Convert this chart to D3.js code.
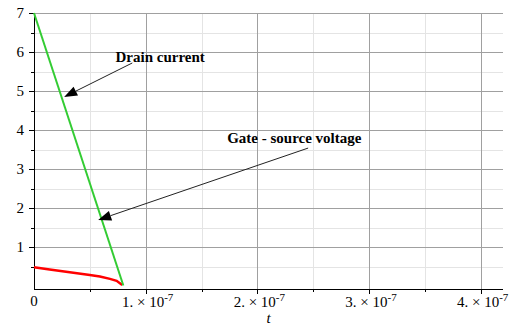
<!DOCTYPE html>
<html lang="en">
<head>
<meta charset="utf-8">
<title>Drain current / gate-source voltage</title>
<script src="https://d3js.org/d3.v7.min.js"></script>
<style type="text/css">
  body { margin: 0; background: #fff; }
</style>
</head>
<body>
<div id="chart"></div>
<script>

/* Data (t in seconds) */
/* =================== */

var greenT = [0, 0.80e-7];
var greenV = [7, 0.02];

var redT = [0, 0.14e-7, 0.32e-7, 0.50e-7, 0.59e-7, 0.68e-7, 0.74e-7, 0.79e-7];
var redV = [0.49, 0.43, 0.36, 0.29, 0.25, 0.19, 0.14, 0.03];

var xMajor = [1e-7, 2e-7, 3e-7, 4e-7];
var xMinor = [0.5e-7, 1.5e-7, 2.5e-7, 3.5e-7];
var xLabels = ['1.', '2.', '3.', '4.'];
var yMajor = [1, 2, 3, 4, 5, 6, 7];
var yMinor = [0.5, 1.5, 2.5, 3.5, 4.5, 5.5, 6.5];

// annotations: text position, arrow tail, arrow tip (data coords)
var noteText = ['Drain current', 'Gate - source voltage'];
var noteTextPos = [[0.73e-7, 5.75], [1.73e-7, 3.67]];
var noteTail = [[0.88e-7, 5.72], [2.455e-7, 3.54]];
var noteTip = [[0.27e-7, 4.85], [0.575e-7, 1.70]];


/* Setup */
/* ===== */

var width = 511, height = 331;
var serif = '"Liberation Serif"';

var x = d3.scaleLinear().domain([0, 4.2e-7]).range([34, 503]);
var y = d3.scaleLinear().domain([-0.07, 7]).range([289, 13]);

var svg = d3.select('#chart').append('svg')
    .attr('width', width)
    .attr('height', height);


/* Grid */
/* ==== */

var grid = svg.append('g').attr('shape-rendering', 'crispEdges');

grid.selectAll('.vmin').data(xMinor).enter().append('line')
    .attr('x1', d => Math.round(x(d)) + 0.5).attr('x2', d => Math.round(x(d)) + 0.5)
    .attr('y1', y.range()[0]).attr('y2', y.range()[1])
    .attr('stroke', '#e4e4e4');

grid.selectAll('.hmin').data(yMinor).enter().append('line')
    .attr('y1', d => Math.round(y(d)) + 0.5).attr('y2', d => Math.round(y(d)) + 0.5)
    .attr('x1', x.range()[0]).attr('x2', x.range()[1])
    .attr('stroke', '#e4e4e4');

grid.selectAll('.vmaj').data(xMajor).enter().append('line')
    .attr('x1', d => Math.round(x(d)) + 0.5).attr('x2', d => Math.round(x(d)) + 0.5)
    .attr('y1', y.range()[0]).attr('y2', y.range()[1])
    .attr('stroke', '#a0a0a0');

grid.selectAll('.hmaj').data(yMajor).enter().append('line')
    .attr('y1', d => Math.round(y(d)) + 0.5).attr('y2', d => Math.round(y(d)) + 0.5)
    .attr('x1', x.range()[0]).attr('x2', x.range()[1])
    .attr('stroke', '#a0a0a0');


/* Axes */
/* ==== */

var ax = svg.append('g').attr('shape-rendering', 'crispEdges').attr('stroke', '#000');

// y axis line at t = 0, x axis line at bottom of range
ax.append('line').attr('x1', x(0) + 0.5).attr('x2', x(0) + 0.5)
    .attr('y1', y.range()[1]).attr('y2', y.range()[0] + 0.5);
ax.append('line').attr('x1', x(0)).attr('x2', x.range()[1])
    .attr('y1', y.range()[0] + 0.5).attr('y2', y.range()[0] + 0.5);

ax.selectAll('.ytk').data(yMajor).enter().append('line')
    .attr('x1', x(0) - 5).attr('x2', x(0))
    .attr('y1', d => Math.round(y(d)) + 0.5).attr('y2', d => Math.round(y(d)) + 0.5);
ax.selectAll('.ytm').data(yMinor).enter().append('line')
    .attr('x1', x(0) - 3).attr('x2', x(0))
    .attr('y1', d => Math.round(y(d)) + 0.5).attr('y2', d => Math.round(y(d)) + 0.5);
ax.selectAll('.xtk').data(xMajor).enter().append('line')
    .attr('x1', d => Math.round(x(d)) + 0.5).attr('x2', d => Math.round(x(d)) + 0.5)
    .attr('y1', y.range()[0]).attr('y2', y.range()[0] + 5);
ax.selectAll('.xtm').data(xMinor).enter().append('line')
    .attr('x1', d => Math.round(x(d)) + 0.5).attr('x2', d => Math.round(x(d)) + 0.5)
    .attr('y1', y.range()[0]).attr('y2', y.range()[0] + 3);

// tick labels
svg.selectAll('.ylab').data(yMajor).enter().append('text')
    .attr('x', x(0) - 10).attr('y', d => y(d)).attr('dy', '0.35em')
    .attr('text-anchor', 'end').attr('font-size', 15)
    .style('font-family', serif)
    .text(d => d);

svg.append('text').attr('x', x(0)).attr('y', 306)
    .attr('text-anchor', 'middle').attr('font-size', 15)
    .style('font-family', serif).text('0');

var xl = svg.selectAll('.xlab').data(xMajor).enter().append('text')
    .attr('x', d => x(d) + 2).attr('y', 307)
    .attr('text-anchor', 'middle').attr('font-size', 15)
    .style('font-family', serif);
xl.append('tspan').text((d, i) => xLabels[i] + ' \u00d7 10');
xl.append('tspan').attr('dy', -6).attr('font-size', 11).text('-7');

svg.append('text').attr('x', (x.range()[0] + x.range()[1]) / 2).attr('y', 323)
    .attr('text-anchor', 'middle').attr('font-size', 15).attr('font-style', 'italic')
    .style('font-family', serif)
    .text('t');


/* Curves */
/* ====== */

var line = d3.line().x(d => x(d[0])).y(d => y(d[1]));

svg.append('path')
    .datum(redT.map((t, i) => [t, redV[i]]))
    .attr('d', line)
    .attr('fill', 'none').attr('stroke', '#ff0000').attr('stroke-width', 2.5);

svg.append('path')
    .datum(greenT.map((t, i) => [t, greenV[i]]))
    .attr('d', line)
    .attr('fill', 'none').attr('stroke', '#33cc33').attr('stroke-width', 2);


/* Annotations */
/* =========== */

noteText.forEach(function(txt, i) {

  var tx = x(noteTail[i][0]), ty = y(noteTail[i][1]),
      hx = x(noteTip[i][0]), hy = y(noteTip[i][1]);
  var ang = Math.atan2(hy - ty, hx - tx),
      len = 13, half = 5;
  var bx = hx - len * Math.cos(ang), by = hy - len * Math.sin(ang);

  svg.append('line')
    .attr('x1', tx).attr('y1', ty).attr('x2', bx).attr('y2', by)
    .attr('stroke', '#222').attr('stroke-width', 1);

  svg.append('polygon')
    .attr('points', [
      [hx, hy],
      [bx + half * Math.sin(ang), by - half * Math.cos(ang)],
      [bx - half * Math.sin(ang), by + half * Math.cos(ang)]
    ].map(p => p.join(',')).join(' '))
    .attr('fill', '#000');

  svg.append('text')
    .attr('x', x(noteTextPos[i][0])).attr('y', y(noteTextPos[i][1]))
    .style('font-family', serif)
    .attr('font-size', 15).attr('font-weight', 'bold')
    .text(txt);

});

</script>
</body>
</html>
